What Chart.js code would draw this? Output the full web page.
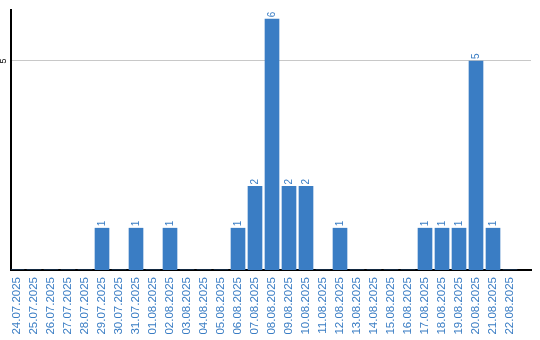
<!DOCTYPE html>
<html>
<head>
<meta charset="utf-8">
<script src="https://cdn.jsdelivr.net/npm/chart.js@4"></script>
<style>
  html, body { margin: 0; padding: 0; background: #fff; }
  #wrap { width: 540px; height: 340px; }
</style>
</head>
<body>
<div id="wrap"><canvas id="chart" width="540" height="340"></canvas></div>
<script>
// ---- データ ----
const days = [
    '24.07.2025', '25.07.2025', '26.07.2025', '27.07.2025', '28.07.2025',
    '29.07.2025', '30.07.2025', '31.07.2025', '01.08.2025', '02.08.2025',
    '03.08.2025', '04.08.2025', '05.08.2025', '06.08.2025', '07.08.2025',
    '08.08.2025', '09.08.2025', '10.08.2025', '11.08.2025', '12.08.2025',
    '13.08.2025', '14.08.2025', '15.08.2025', '16.08.2025', '17.08.2025',
    '18.08.2025', '19.08.2025', '20.08.2025', '21.08.2025', '22.08.2025',
];
const counts = [
    0, 0, 0, 0, 0,
    1, 0, 1, 0, 1,
    0, 0, 0, 1, 2,
    6, 2, 2, 0, 1,
    0, 0, 0, 0, 1,
    1, 1, 5, 1, 0,
];
const yTicks = [5];

const BLUE = '#3a7dc4';
const FONT = "'Liberation Sans', Arial, sans-serif";

// 縦書きテキストを描く
function drawVertical(ctx, text, x, y, align) {
    ctx.save();
    ctx.translate(x, y);
    ctx.rotate(-Math.PI / 2);
    ctx.textAlign = align;
    ctx.fillText(text, 0, 0);
    ctx.restore();
}

// 棒の上の値ラベルとY軸の目盛り
const valueLabels = {
    id: 'valueLabels',
    afterDatasetsDraw(chart) {
        const ctx = chart.ctx;
        const meta = chart.getDatasetMeta(0);
        ctx.save();
        ctx.fillStyle = BLUE;
        ctx.font = '10px ' + FONT;
        ctx.textBaseline = 'middle';
        meta.data.forEach((bar, i) => {
            if (!counts[i]) return;
            drawVertical(ctx, String(counts[i]), bar.x, bar.y - 2, 'left');
        });

        const yScale = chart.scales.y;
        ctx.fillStyle = '#000';
        ctx.font = '9px ' + FONT;
        yTicks.forEach(v => {
            drawVertical(ctx, String(v), 4, yScale.getPixelForValue(v), 'center');
        });
        ctx.restore();
    },
};

const points = days.map((d, i) => ({ x: i, y: counts[i] }));
const xMin = -6 / 17;
const xMax = xMin + 520 / 17;

new Chart(document.getElementById('chart'), {
    type: 'bar',
    data: {
        datasets: [{
            data: points,
            backgroundColor: BLUE,
            borderWidth: 0,
            barThickness: 14,
        }],
    },
    plugins: [valueLabels],
    options: {
        responsive: false,
        animation: false,
        layout: { padding: { top: 10, right: 9, left: 0, bottom: 0 } },
        plugins: {
            legend: { display: false },
            tooltip: { enabled: false },
        },
        scales: {
            x: {
                type: 'linear',
                min: xMin,
                max: xMax,
                offset: false,
                afterFit: scale => {
                    scale.height = 70;
                    scale.paddingLeft = 0;
                    scale.paddingRight = 0;
                },
                ticks: {
                    stepSize: 1,
                    includeBounds: false,
                    autoSkip: false,
                    minRotation: 90,
                    maxRotation: 90,
                    padding: 7,
                    color: BLUE,
                    font: { family: FONT, size: 11.5 },
                    callback: v => (Number.isInteger(v) && days[v]) ? days[v] : '',
                },
                grid: { display: false, drawTicks: false },
                border: { display: true, color: '#000', width: 2 },
            },
            y: {
                min: 0,
                max: 6.22,
                afterFit: scale => { scale.width = 11; },
                afterBuildTicks: scale => { scale.ticks = yTicks.map(v => ({ value: v })); },
                ticks: { display: false },
                grid: { color: '#c8c8c8', lineWidth: 1, drawTicks: false },
                border: { display: true, color: '#000', width: 2 },
            },
        },
    },
});
</script>
</body>
</html>
